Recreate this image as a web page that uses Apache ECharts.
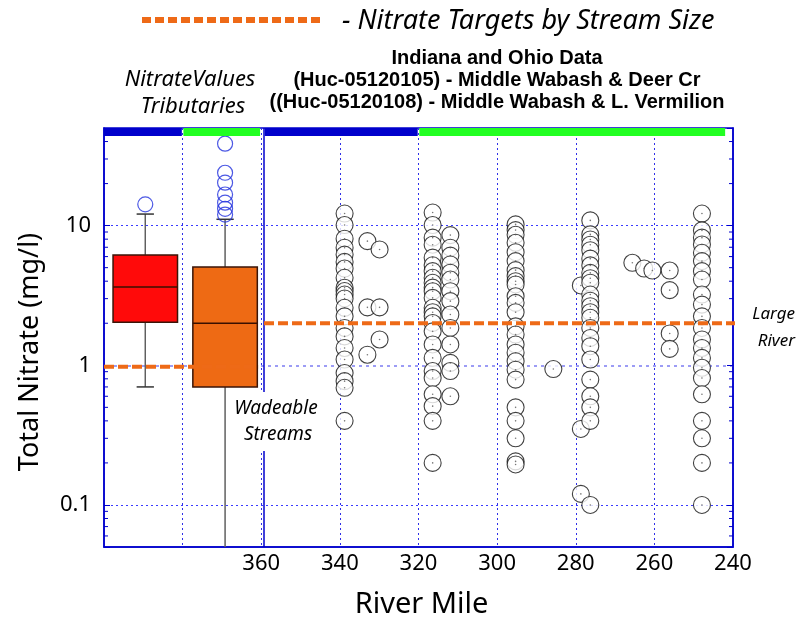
<!DOCTYPE html>
<html><head><meta charset="utf-8">
<script src="https://cdn.jsdelivr.net/npm/echarts@6/dist/echarts.min.js"></script>
<style>html,body{margin:0;padding:0;background:#fff}#c{width:807px;height:618px}</style>
</head><body><div id="c"></div>
<script>
// ---------------- DATA ----------------
const xTickLabels = ['360','340','320','300','280','260','240'];
const yTickLabels = ['0.1','1','10'];
const yMinorTicks = [0.06,0.07,0.08,0.09,0.2,0.3,0.4,0.5,0.6,0.7,0.8,0.9,2,3,4,5,6,7,8,9,20,30,40];

// tributary box plots: [low whisker, Q1, median, Q3, high whisker]
const boxMiles = [389.5, 369.2];
const boxStats = [[0.70, 2.03, 3.64, 6.17, 12.1], [0.03, 0.70, 2.0, 5.06, 11.1]];
const boxOutliers1 = [14.2];
const boxOutliers2 = [38.6, 23.9, 20.3, 16.7, 14.6, 13.2, 12.0];

// nitrate targets [river mile, mg/l]
const targetWadeable = [[400, 0.975], [360.8, 0.975]];
const targetLargeRiver = [[359.3, 2.0], [239, 2.0]];

// stream-size bars along the top [from mile, to mile]
const topSegments = [[400, 380.2], [379.8, 360.3], [359.1, 320.2], [319.8, 242]];

// main-stem samples by river mile
const siteMiles = [338.8, 333.0, 329.9, 316.4, 311.9, 295.3, 285.7, 278.7, 276.3, 265.6, 262.6, 260.5, 256.1, 247.9];
const site338 = [12.2, 10.1, 8.06, 6.95, 6.2, 5.5, 4.93, 4.23, 3.59, 3.4, 3.21, 3.01, 2.58, 2.24, 1.85, 1.61, 1.33, 1.10, 0.88, 0.77, 0.69, 0.40];
const site333 = [7.74, 2.6, 1.19];
const site330 = [6.75, 2.6, 1.53];
const site316 = [12.4, 10.1, 8.2, 7.3, 5.9, 5.2, 4.72, 4.23, 3.9, 3.6, 3.39, 3.04, 2.58, 2.4, 2.24, 2.01, 1.75, 1.41, 1.13, 0.91, 0.81, 0.62, 0.51, 0.40, 0.20];
const site312 = [8.55, 6.95, 6.1, 5.27, 4.6, 4.11, 3.39, 2.88, 2.31, 1.85, 1.41, 1.04, 0.91, 0.60];
const site295 = [10.2, 9.29, 8.6, 7.54, 6.45, 5.57, 4.8, 4.35, 4.0, 3.79, 3.12, 2.80, 2.40, 1.90, 1.66, 1.41, 1.23, 1.07, 0.93, 0.79, 0.50, 0.40, 0.30, 0.205, 0.195];
const site286 = [0.94];
const site279 = [3.73, 0.35, 0.12];
const site276 = [10.9, 8.65, 7.96, 7.3, 6.67, 5.8, 5.19, 4.59, 4.2, 3.90, 3.21, 2.9, 2.65, 2.4, 2.19, 1.85, 1.57, 1.37, 1.10, 0.79, 0.60, 0.50, 0.40, 0.10];
const site266 = [5.42];
const site263 = [4.93];
const site261 = [4.77];
const site256 = [4.77, 3.45, 1.69, 1.31];
const site248 = [12.2, 9.24, 8.2, 7.33, 6.39, 5.57, 4.72, 4.11, 3.21, 2.72, 2.24, 1.85, 1.53, 1.33, 1.13, 0.96, 0.81, 0.62, 0.40, 0.30, 0.20, 0.10];
const siteValues = [site338, site333, site330, site316, site312, site295, site286, site279, site276, site266, site263, site261, site256, site248];

// ---------------- STYLE ----------------
const BLUE = '#0000CC', GREEN = '#22FF22', ORANGE = '#EE6A17';
const GRIDC = '#2F2FE8';
const comic = "'Comic Sans MS','Noto Sans',sans-serif";
const titleFont = 'bold 20px "Liberation Sans",Arial,sans-serif';
const boxFill = ['#FF0A0A', '#EE6A14'];
const segColors = [BLUE, GREEN, BLUE, GREEN];

const scatterData = [];
siteMiles.forEach((m, i) => siteValues[i].forEach(v => scatterData.push([m, v])));
const outlierData = boxOutliers1.map(v => [boxMiles[0], v]).concat(boxOutliers2.map(v => [boxMiles[1], v]));
const boxData = boxMiles.map((m, i) => [m].concat(boxStats[i]));

function renderBox(params, api) {
  const x = api.value(0);
  const lo = api.coord([x, api.value(1)]), q1 = api.coord([x, api.value(2)]),
        md = api.coord([x, api.value(3)]), q3 = api.coord([x, api.value(4)]),
        hi = api.coord([x, api.value(5)]);
  const l = api.coord([x + 8.2, api.value(3)])[0], r = api.coord([x - 8.2, api.value(3)])[0];
  const cl = api.coord([x + 2.2, api.value(3)])[0], cr = api.coord([x - 2.2, api.value(3)])[0];
  const cx = lo[0];
  return {type: 'group', children: [
    {type: 'line', shape: {x1: cx, y1: q1[1], x2: cx, y2: lo[1]}, style: {stroke: '#606060', lineWidth: 1.5}},
    {type: 'line', shape: {x1: cx, y1: q3[1], x2: cx, y2: hi[1]}, style: {stroke: '#606060', lineWidth: 1.5}},
    {type: 'line', shape: {x1: cl, y1: hi[1], x2: cr, y2: hi[1]}, style: {stroke: '#333', lineWidth: 1.5}},
    {type: 'line', shape: {x1: cl, y1: lo[1], x2: cr, y2: lo[1]}, style: {stroke: '#333', lineWidth: 1.5}},
    {type: 'rect', shape: {x: l, y: q3[1], width: r - l, height: q1[1] - q3[1]}, style: {fill: boxFill[params.dataIndex], stroke: '#3a1508', lineWidth: 1.5}},
    {type: 'line', shape: {x1: l, y1: md[1], x2: r, y2: md[1]}, style: {stroke: '#3a1000', lineWidth: 1.5}}
  ]};
}

function renderSeg(params, api) {
  const a = api.coord([api.value(0), 10]), b = api.coord([api.value(1), 10]);
  const top = params.coordSys.y;
  return {type: 'rect', shape: {x: a[0], y: top, width: b[0] - a[0], height: 8}, style: {fill: segColors[params.dataIndex]}};
}

function renderMinor(params, api) {
  const v = api.value(0);
  const p1 = api.coord([400, v]), p2 = api.coord([240, v]);
  return {type: 'group', children: [
    {type: 'line', shape: {x1: p1[0], y1: p1[1], x2: p1[0] + 4, y2: p1[1]}, style: {stroke: BLUE, lineWidth: 1}},
    {type: 'line', shape: {x1: p2[0], y1: p2[1], x2: p2[0] - 4, y2: p2[1]}, style: {stroke: BLUE, lineWidth: 1}}
  ]};
}

const chart = echarts.init(document.getElementById('c'), null, {renderer: 'canvas'});
const yAxisBase = {
  type: 'log', logBase: 10, min: 0.05, max: 50,
  axisLine: {show: true, lineStyle: {color: BLUE, width: 1.5}},
  axisTick: {show: true, inside: true, length: 6, lineStyle: {color: BLUE}},
};
chart.setOption({
  animation: false,
  backgroundColor: '#fff',
  grid: {left: 104, right: 74, top: 128, bottom: 71, containLabel: false, outerBoundsMode: 'none',
    show: true, borderColor: BLUE, borderWidth: 1.5, backgroundColor: 'transparent'},
  xAxis: {
    type: 'value', min: 240, max: 400, interval: 20, inverse: true,
    name: 'River Mile', nameLocation: 'middle', nameGap: 43,
    nameTextStyle: {fontFamily: comic, fontSize: 29, color: '#000', padding: [0, 0, 0, 6]},
    axisLine: {show: true, lineStyle: {color: BLUE, width: 1.5}},
    axisTick: {show: false},
    axisLabel: {fontFamily: comic, fontSize: 22, color: '#000', margin: 6,
      formatter: v => xTickLabels.includes(String(v)) ? String(v) : ''},
    splitLine: {show: true, lineStyle: {color: GRIDC, width: 1, type: [2, 3]}}
  },
  yAxis: [
    Object.assign({}, yAxisBase, {
      axisLabel: {fontFamily: comic, fontSize: 22, color: '#000', margin: 13,
        formatter: v => { const s = v < 1 ? v.toFixed(1) : String(Math.round(v)); return yTickLabels.includes(s) && Math.abs(Number(s) - v) < 1e-6 ? s : ''; }},
      splitLine: {show: false}
    }),
    Object.assign({}, yAxisBase, {position: 'right', axisLabel: {show: false}, splitLine: {show: false}})
  ],
  series: [
    {type: 'custom', name: 'minor', renderItem: renderMinor, data: yMinorTicks.map(v => [v]), encode: {y: 0}, silent: true, z: 1,
      markLine: {silent: true, symbol: 'none', label: {show: false}, z: 0,
        data: yTickLabels.map(s => ({yAxis: Number(s), lineStyle: {color: s === '1' ? '#7C7CF2' : '#3A3AFF', width: s === '1' ? 1.5 : 1.2, type: s === '1' ? [3, 4] : [2, 3]}}))}},
    {type: 'custom', name: 'boxes', renderItem: renderBox, data: boxData, encode: {x: 0, y: [1, 2, 3, 4, 5]}, clip: true, z: 2},
    {type: 'scatter', name: 'outliers', data: outlierData, symbol: 'circle', symbolSize: 15,
      itemStyle: {color: 'rgba(255,255,255,0)', borderColor: '#2030DD', borderWidth: 1.2}, z: 3},
    {type: 'scatter', name: 'samples', data: scatterData, symbol: 'circle', symbolSize: 17,
      itemStyle: {color: '#fff', borderColor: '#111', borderWidth: 1.1}, z: 3},
    {type: 'scatter', name: 'dots', data: scatterData, symbol: 'circle', symbolSize: 1.6,
      itemStyle: {color: '#555'}, z: 4, silent: true},
    {type: 'custom', name: 'segments', renderItem: renderSeg, data: topSegments, encode: {x: [0, 1]}, z: 5},
    {type: 'line', name: 'target1', data: targetWadeable, symbol: 'none', lineStyle: {color: ORANGE, width: 4, type: [10, 4]}, z: 6,
      markLine: {silent: true, symbol: 'none', label: {show: false}, data: [{xAxis: 359.3}], lineStyle: {color: BLUE, width: 1.5, type: 'solid'}}},
    {type: 'line', name: 'target2', data: targetLargeRiver, symbol: 'none', lineStyle: {color: ORANGE, width: 4, type: [10, 4]}, z: 6, clip: false}
  ],
  graphic: [
    {type: 'line', shape: {x1: 142, y1: 20, x2: 322, y2: 20}, style: {stroke: ORANGE, lineWidth: 6, lineDash: [9, 4]}, z: 10},
    {type: 'text', x: 342, y: 21, style: {text: '- Nitrate Targets by Stream Size', font: 'italic 27px ' + comic, fill: '#000', verticalAlign: 'middle'}, z: 10},
    {type: 'text', x: 497, y: 58, style: {text: 'Indiana and Ohio Data', font: titleFont, fill: '#000', align: 'center', verticalAlign: 'middle'}, z: 10},
    {type: 'text', x: 497, y: 80, style: {text: '(Huc-05120105) - Middle Wabash & Deer Cr', font: titleFont, fill: '#000', align: 'center', verticalAlign: 'middle'}, z: 10},
    {type: 'text', x: 497, y: 102, style: {text: '((Huc-05120108) - Middle Wabash & L. Vermilion', font: titleFont, fill: '#000', align: 'center', verticalAlign: 'middle'}, z: 10},
    {type: 'text', x: 190, y: 80, style: {text: 'NitrateValues', font: 'italic 22px ' + comic, fill: '#000', align: 'center', verticalAlign: 'middle'}, z: 10},
    {type: 'text', x: 193, y: 107, style: {text: 'Tributaries', font: 'italic 22px ' + comic, fill: '#000', align: 'center', verticalAlign: 'middle'}, z: 10},
    {type: 'text', x: 30, y: 352, rotation: Math.PI / 2, style: {text: 'Total Nitrate (mg/l)', font: '27px ' + comic, fill: '#000', align: 'center', verticalAlign: 'middle'}, z: 10},
    {type: 'rect', shape: {x: 226, y: 392, width: 96, height: 59}, style: {fill: '#fff'}, z: 10},
    {type: 'text', x: 276, y: 409, style: {text: 'Wadeable', font: 'italic 19px ' + comic, fill: '#000', align: 'center', verticalAlign: 'middle'}, z: 11},
    {type: 'text', x: 278, y: 435, style: {text: 'Streams', font: 'italic 19px ' + comic, fill: '#000', align: 'center', verticalAlign: 'middle'}, z: 11},
    {type: 'text', x: 795, y: 314, style: {text: 'Large', font: 'italic 17px ' + comic, fill: '#000', align: 'right', verticalAlign: 'middle'}, z: 10},
    {type: 'text', x: 795, y: 341, style: {text: 'River', font: 'italic 17px ' + comic, fill: '#000', align: 'right', verticalAlign: 'middle'}, z: 10}
  ]
});
</script></body></html>
